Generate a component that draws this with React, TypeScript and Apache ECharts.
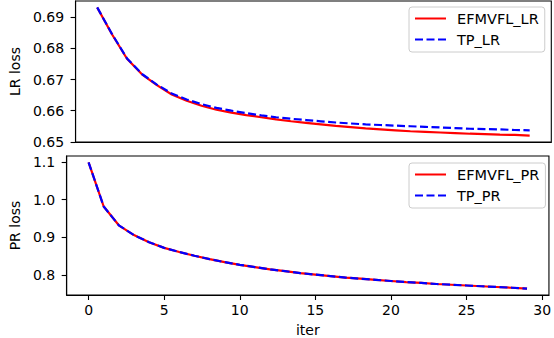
import React, { useEffect, useRef } from "react";
import * as echarts from "echarts";

const FONT = "DejaVu Sans";

const iters = [0, 1, 2, 3, 4, 5, 6, 7, 8, 9, 10, 11, 12, 13, 14, 15, 16, 17, 18, 19, 20, 21, 22, 23, 24, 25, 26, 27, 28, 29];

const efmvflLR = [
  0.6932, 0.6845, 0.6767, 0.6717, 0.6682, 0.6652, 0.6632, 0.6616, 0.6603, 0.6594,
  0.6586, 0.6579, 0.6572, 0.6566, 0.6561, 0.6556, 0.6551, 0.6547, 0.6543, 0.654,
  0.6537, 0.6534, 0.6532, 0.653, 0.6528, 0.6526, 0.6525, 0.6523, 0.6522, 0.652,
];
const tpLR = [
  0.6932, 0.6846, 0.6768, 0.6718, 0.6684, 0.6655, 0.6636, 0.6621, 0.6609, 0.66,
  0.6592, 0.6585, 0.6579, 0.6574, 0.657, 0.6566, 0.6562, 0.6559, 0.6556, 0.6554,
  0.6552, 0.655, 0.6548, 0.6546, 0.6544, 0.6542, 0.6541, 0.654, 0.6538, 0.6537,
];
const efmvflPR = [
  1.0995, 0.982, 0.932, 0.906, 0.887, 0.872, 0.861, 0.851, 0.842, 0.834,
  0.827, 0.821, 0.815, 0.81, 0.805, 0.801, 0.797, 0.793, 0.79, 0.787,
  0.784, 0.781, 0.779, 0.776, 0.774, 0.772, 0.77, 0.768, 0.766, 0.7635,
];
const tpPR = [
  1.0995, 0.982, 0.932, 0.906, 0.887, 0.872, 0.861, 0.851, 0.842, 0.834,
  0.827, 0.821, 0.815, 0.81, 0.805, 0.801, 0.797, 0.793, 0.79, 0.787,
  0.784, 0.781, 0.779, 0.776, 0.774, 0.772, 0.77, 0.768, 0.766, 0.7635,
];

const xTicks = [0, 5, 10, 15, 20, 25, 30];
const lrTicks = [0.65, 0.66, 0.67, 0.68, 0.69];
const prTicks = [0.8, 0.9, 1.0, 1.1];

function padRange(arrs: number[][]): [number, number] {
  const all = arrs.flat();
  const mn = Math.min(...all);
  const mx = Math.max(...all);
  const m = (mx - mn) * 0.05;
  return [mn - m, mx + m];
}

export default function App() {
  const ref = useRef<HTMLDivElement>(null);
  useEffect(() => {
    if (!ref.current) return;
    const chart = echarts.init(ref.current, undefined, { renderer: "svg" });
    const [xMin, xMax] = padRange([iters]);
    const [lrMin, lrMax] = padRange([efmvflLR, tpLR]);
    const [prMin, prMax] = padRange([efmvflPR, tpPR]);
    const txt = { fontFamily: FONT, fontSize: 14, color: "#000" };
    const gridBase = {
      left: 63.3,
      width: 488,
      height: 141,
      show: true,
      borderColor: "#000",
      borderWidth: 1.1,
      backgroundColor: "transparent",
      containLabel: false,
    };
    const legendBase = {
      orient: "vertical",
      left: 409,
      itemWidth: 31,
      itemHeight: 14,
      itemGap: 6,
      padding: [4, 6, 5, 5],
      backgroundColor: "rgba(255,255,255,0.8)",
      borderColor: "#cccccc",
      borderWidth: 1,
      borderRadius: 3,
      selectedMode: false,
      itemStyle: { opacity: 0 },
      textStyle: { fontFamily: FONT, fontSize: 14.5, color: "#000", padding: [0, 0, 0, 6] },
    };
    const mk = (x: number[], y: number[]) => x.map((v, i) => [v, y[i]]);
    const axisLine = { show: true, onZero: false, lineStyle: { color: "#000", width: 1.1 } };
    const tick = (vals: number[]) => ({ show: true, length: 5, customValues: vals, lineStyle: { color: "#000", width: 1.1 } });
    const option: any = {
      animation: false,
      backgroundColor: "#fff",
      textStyle: { fontFamily: FONT },
      grid: [
        { ...gridBase, top: 1 },
        { ...gridBase, top: 156 },
      ],
      legend: [
        { ...legendBase, top: 7, data: ["EFMVFL_LR", "TP_LR"] },
        { ...legendBase, top: 163, data: ["EFMVFL_PR", "TP_PR"] },
      ],
      xAxis: [
        {
          gridIndex: 0,
          type: "value",
          min: xMin,
          max: xMax,
          axisLine,
          axisTick: { show: false },
          axisLabel: { show: false },
          splitLine: { show: false },
        },
        {
          gridIndex: 1,
          type: "value",
          min: xMin,
          max: xMax,
          axisLine,
          axisTick: tick(xTicks),
          axisLabel: { show: true, customValues: xTicks, margin: 8, ...txt, formatter: (v: number) => String(Math.round(v)) },
          splitLine: { show: false },
          name: "iter",
          nameLocation: "middle",
          nameGap: 28,
          nameTextStyle: txt,
        },
      ],
      yAxis: [
        {
          gridIndex: 0,
          type: "value",
          min: lrMin,
          max: lrMax,
          axisLine,
          axisTick: tick(lrTicks),
          axisLabel: { show: true, customValues: lrTicks, margin: 11.5, ...txt, formatter: (v: number) => v.toFixed(2) },
          splitLine: { show: false },
          name: "LR loss",
          nameLocation: "middle",
          nameGap: 51,
          nameRotate: 90,
          nameTextStyle: txt,
        },
        {
          gridIndex: 1,
          type: "value",
          min: prMin,
          max: prMax,
          axisLine,
          axisTick: tick(prTicks),
          axisLabel: { show: true, customValues: prTicks, margin: 11.5, ...txt, formatter: (v: number) => v.toFixed(1) },
          splitLine: { show: false },
          name: "PR loss",
          nameLocation: "middle",
          nameGap: 41,
          nameRotate: 90,
          nameTextStyle: txt,
        },
      ],
      series: [
        {
          name: "EFMVFL_LR",
          type: "line",
          xAxisIndex: 0,
          yAxisIndex: 0,
          data: mk(iters, efmvflLR),
          symbol: "none",
          showSymbol: false,
          lineStyle: { color: "#ff0000", width: 2.2 },
          itemStyle: { color: "#ff0000" },
        },
        {
          name: "TP_LR",
          type: "line",
          xAxisIndex: 0,
          yAxisIndex: 0,
          data: mk(iters, tpLR),
          symbol: "none",
          showSymbol: false,
          lineStyle: { color: "#0000ff", width: 2.2, type: [8, 3.5] },
          itemStyle: { color: "#0000ff" },
        },
        {
          name: "EFMVFL_PR",
          type: "line",
          xAxisIndex: 1,
          yAxisIndex: 1,
          data: mk(iters, efmvflPR),
          symbol: "none",
          showSymbol: false,
          lineStyle: { color: "#ff0000", width: 2.2 },
          itemStyle: { color: "#ff0000" },
        },
        {
          name: "TP_PR",
          type: "line",
          xAxisIndex: 1,
          yAxisIndex: 1,
          data: mk(iters, tpPR),
          symbol: "none",
          showSymbol: false,
          lineStyle: { color: "#0000ff", width: 2.2, type: [8, 3.5] },
          itemStyle: { color: "#0000ff" },
        },
      ],
    };
    chart.setOption(option);
    return () => chart.dispose();
  }, []);
  return <div ref={ref} style={{ width: 554, height: 338, position: "absolute", left: 0, top: 0 }} />;
}
